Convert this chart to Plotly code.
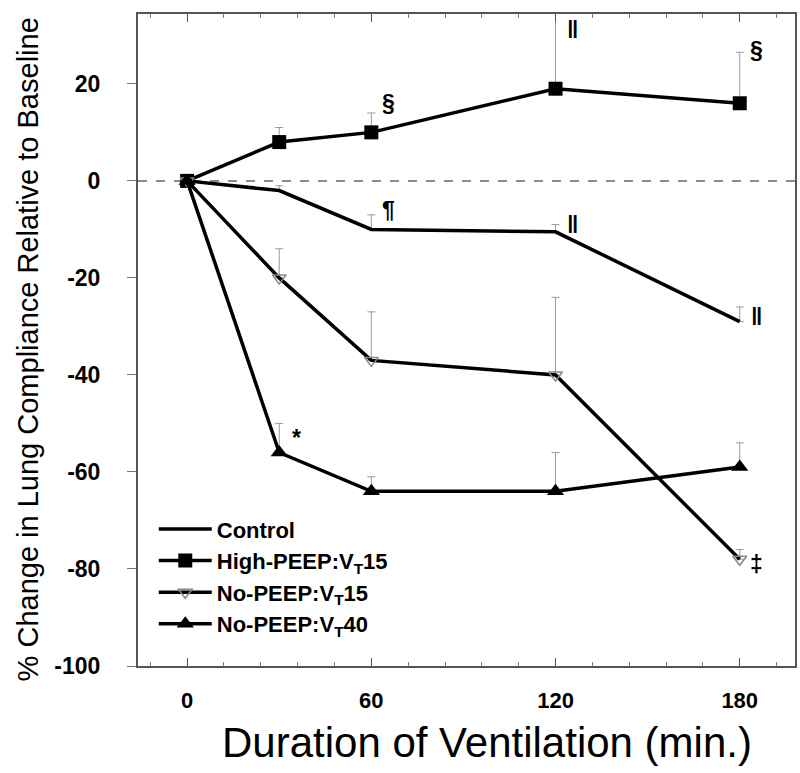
import plotly.graph_objects as go

minutes = [0, 30, 60, 120, 180]

control = [0, -2, -10, -10.5, -29]
control_err = [0, 1, 3, 1.5, 3]

high_peep = [0, 8, 10, 19, 16]
high_peep_err = [0, 3, 4, 17, 10.5]

nopeep15 = [0, -20, -37, -40, -78]
nopeep15_err = [0, 6, 10, 16, 2]

nopeep40 = [0, -56, -64, -64, -59]
nopeep40_err = [0, 6, 3, 8, 5]

# significance marks
marks_x = [60, 120, 180, 60, 120, 180, 30, 180]
marks_y = [16, 31, 27, -6, -9, -28, -53, -79]
marks_t = ["§", "‖", "§", "¶", "‖", "‖", "*", "‡"]

x_ticks = [0, 60, 120, 180]
y_ticks = [-100, -80, -60, -40, -20, 0, 20]
y_ticktext = ["-100", "-80", "-60", "-40", "-20", "0", "20"]

FONT = "Liberation Sans, Arial, sans-serif"

def err(vals):
    return dict(type="data", array=vals, arrayminus=[0] * len(vals), symmetric=False,
                color="#9a9a9a", thickness=1, width=4)

fig = go.Figure()

fig.add_trace(go.Scatter(x=minutes, y=control, mode="lines", name="Control",
                         line=dict(color="black", width=3.5), error_y=err(control_err)))
fig.add_trace(go.Scatter(x=minutes, y=high_peep, mode="lines+markers",
                         name="High-PEEP:V<sub>T</sub>15",
                         line=dict(color="black", width=3.5),
                         marker=dict(symbol="square", size=14, color="black"),
                         error_y=err(high_peep_err)))
fig.add_trace(go.Scatter(x=minutes, y=nopeep15, mode="lines+markers",
                         name="No-PEEP:V<sub>T</sub>15",
                         line=dict(color="black", width=3.5),
                         marker=dict(symbol="triangle-down-open", size=12, color="#888888",
                                     line=dict(width=1.5, color="#888888")),
                         error_y=err(nopeep15_err)))
fig.add_trace(go.Scatter(x=minutes, y=nopeep40, mode="lines+markers",
                         name="No-PEEP:V<sub>T</sub>40",
                         line=dict(color="black", width=3.5),
                         marker=dict(symbol="triangle-up", size=15, color="black"),
                         error_y=err(nopeep40_err)))

# zero dashed reference line
fig.add_hline(y=0, line=dict(color="#666666", width=1.5, dash="dash"), layer="below")

for mx, my, mt in zip(marks_x, marks_y, marks_t):
    fig.add_annotation(x=mx, y=my, text=mt, showarrow=False, xshift=17,
                       font=dict(family=FONT, size=23, color="black", weight="bold"))

# axis titles
fig.add_annotation(xref="paper", yref="paper", x=0.531, y=-0.118,
                   text="Duration of Ventilation (min.)", showarrow=False,
                   xanchor="center", yanchor="middle",
                   font=dict(family=FONT, size=42, color="black"))
fig.add_annotation(xref="paper", yref="paper", x=-0.167, y=0.486,
                   text="% Change in Lung Compliance Relative to Baseline", showarrow=False,
                   textangle=-90, xanchor="center", yanchor="middle",
                   font=dict(family=FONT, size=29, color="black"))

fig.update_layout(
    width=800, height=773,
    margin=dict(l=138, r=3, t=14, b=107),
    plot_bgcolor="white", paper_bgcolor="white",
    font=dict(family=FONT, color="black"),
    showlegend=True,
    legend=dict(x=0.024, y=0.242, xanchor="left", yanchor="top",
                bgcolor="rgba(0,0,0,0)",
                font=dict(family=FONT, size=22, color="black", weight="bold"),
                tracegroupgap=2, itemwidth=53),
    xaxis=dict(range=[-16, 198], tickvals=x_ticks, ticktext=[str(v) for v in x_ticks],
               ticks="inside", ticklen=8, tickcolor="#555555",
               minor=dict(dtick=12, ticks="inside", ticklen=4, tickcolor="#777777"),
               showline=True, linecolor="#555555", linewidth=2, mirror="ticks",
               showgrid=False, zeroline=False,
               ticklabelstandoff=14,
               tickfont=dict(family=FONT, size=22, color="black", weight="bold")),
    yaxis=dict(range=[-100, 34.4], tickvals=y_ticks, ticktext=y_ticktext,
               ticks="outside", ticklen=9,
               tickcolor="#777777", showline=True, linecolor="#555555", linewidth=2,
               mirror=True, showgrid=False, zeroline=False,
               tickfont=dict(family=FONT, size=23, color="black", weight="bold"),
               ticklabelstandoff=22),
)

fig.write_html("out.html")
